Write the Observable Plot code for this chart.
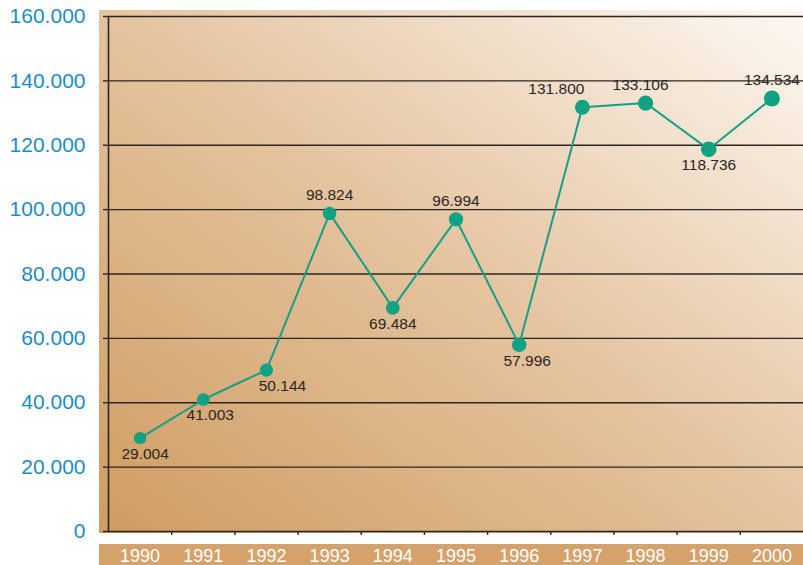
<!DOCTYPE html>
<html><head><meta charset="utf-8">
<script src="https://cdn.jsdelivr.net/npm/d3@7"></script>
<script src="https://cdn.jsdelivr.net/npm/@observablehq/plot@0.6"></script>
<style>
html,body{margin:0;padding:0;background:#fff;}
#chart svg{display:block;}
</style>
</head><body>
<div id="chart"></div>
<script>
const years = [1990,1991,1992,1993,1994,1995,1996,1997,1998,1999,2000];
const values = [29004,41003,50144,98824,69484,96994,57996,131800,133106,118736,134534];
const labelSide = ["below","below","below","above","below","above","below","above","above","below","above"];
const yTicks = [0,20000,40000,60000,80000,100000,120000,140000,160000];

const data = years.map((y,i)=>({year:y, value:values[i], side:labelSide[i], i}));
const fmt = v => v === 0 ? "0" : d3.format(",")(v).replace(/,/g,".");
const labelDx = {1990:5, 1991:7, 1992:16, 1996:8, 1997:-26, 1998:-5};

const W = 803, H = 565, ML = 108, MT = 16, MB = 34;

function background(index, scales, values, dim) {
  const ns = "http://www.w3.org/2000/svg";
  const g = document.createElementNS(ns, "g");
  const defs = document.createElementNS(ns, "defs");
  defs.innerHTML = `<linearGradient id="bgGrad" x1="0" y1="1" x2="1" y2="0">
    <stop offset="0" stop-color="#cf9c61"/>
    <stop offset="0.5" stop-color="#e4c39e"/>
    <stop offset="1" stop-color="#fdf8f2"/></linearGradient>`;
  g.appendChild(defs);
  const r = document.createElementNS(ns, "rect");
  const top = dim.marginTop - 6, bottom = dim.height - dim.marginBottom + 2;
  r.setAttribute("x", dim.marginLeft - 9);
  r.setAttribute("y", top);
  r.setAttribute("width", dim.width - dim.marginLeft + 9);
  r.setAttribute("height", bottom - top);
  r.setAttribute("fill", "url(#bgGrad)");
  g.appendChild(r);
  const b = document.createElementNS(ns, "rect");
  b.setAttribute("x", dim.marginLeft - 9);
  b.setAttribute("y", dim.height - dim.marginBottom + 13);
  b.setAttribute("width", dim.width - dim.marginLeft + 9);
  b.setAttribute("height", 21);
  b.setAttribute("fill", "#d4a26a");
  g.appendChild(b);
  return g;
}

function pointLabels(side, dy) {
  const rows = data.filter(d => d.side === side);
  const offsets = [...new Set(rows.map(d => labelDx[d.year] || 0))];
  return offsets.map(o => Plot.text(rows.filter(d => (labelDx[d.year] || 0) === o), {
    x: "year", y: "value", text: d => fmt(d.value), dx: o, dy, fill: "#2b2623", fontSize: 15.5
  }));
}

const plot = Plot.plot({
  width: W, height: H,
  marginLeft: ML, marginRight: 0, marginTop: MT, marginBottom: MB,
  style: {fontFamily: "Liberation Sans, Arial, sans-serif", background: "transparent"},
  x: {domain: [1989.5, 2000.5], axis: null},
  y: {domain: [0, 160000], axis: null},
  r: {type: "identity"},
  marks: [
    background,
    Plot.ruleY(yTicks.filter(d=>d>0), {stroke: "#2b2623", strokeWidth: 1.4}),
    Plot.axisY(yTicks, {tickSize: 5, tickPadding: 18, tickFormat: fmt, fill: "#1a8bcb", stroke: "#2b2623", strokeWidth: 1.4, fontSize: 21, label: null}),
    Plot.ruleX([1989.5], {stroke: "#2b2623", strokeWidth: 1.6}),
    Plot.ruleY([0], {stroke: "#2b2623", strokeWidth: 1.6}),
    Plot.axisX(years.slice(0,-1).map(y=>y+0.5), {tickSize: 4, tickFormat: () => "", stroke: "#2b2623", strokeWidth: 1.4, label: null}),
    Plot.text(years, {x: d=>d, frameAnchor: "bottom", lineAnchor: "middle", dy: 25, text: d=>String(d), fill: "white", fontSize: 18}),
    Plot.line(data, {x: "year", y: "value", stroke: "#159f86", strokeWidth: 2}),
    Plot.dot(data, {x: "year", y: "value", r: d => 6.2 + d.i*0.18, fill: "#0fa383", stroke: "none"}),
    ...pointLabels("above", -18),
    ...pointLabels("below", 16)
  ]
});
document.getElementById("chart").appendChild(plot);
</script>
</body></html>
